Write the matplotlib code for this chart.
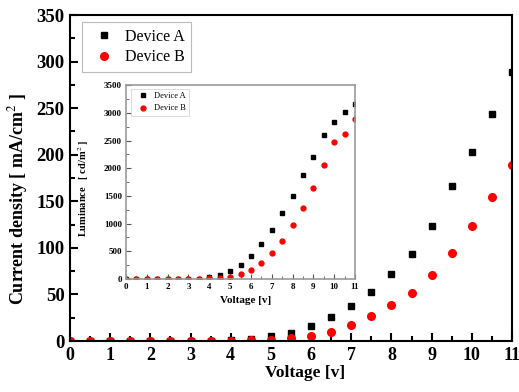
import numpy as np
import matplotlib
matplotlib.use("Agg")
from matplotlib import pyplot as plt
from matplotlib.ticker import MultipleLocator

plt.rcParams['font.family'] = ['Liberation Serif', 'DejaVu Serif']
plt.rcParams['mathtext.fontset'] = 'stix'

# current density vs voltage
voltage = [0, 0.5, 1, 1.5, 2, 2.5, 3, 3.5, 4, 4.5, 5, 5.5, 6, 6.5, 7, 7.5, 8, 8.5, 9, 9.5, 10, 10.5, 11]
cur_a = [0.3, 0.3, 0.3, 0.3, 0.3, 0.3, 0.4, 0.4, 0.8, 2, 5, 9, 16.5, 26, 37.6, 52.3, 71.6, 93.4, 124, 166, 203, 244, 289]
cur_b = [0.2, 0.2, 0.2, 0.2, 0.2, 0.2, 0.2, 0.2, 0.3, 0.7, 1.5, 2.9, 5.4, 10, 17.2, 26.5, 38.3, 52, 71, 94.5, 123, 155, 189]

# luminance vs voltage (inset)
lum_a = [0, 0, 0, 0, 0, 0, 2, 8, 30, 72, 145, 253, 416, 632, 885, 1190, 1505, 1879, 2204, 2602, 2831, 3012, 3157]
lum_b = [0, 0, 0, 0, 0, 0, 1, 4, 10, 24, 42, 90, 163, 295, 470, 692, 981, 1278, 1639, 2054, 2481, 2620, 2897]

fig = plt.figure(figsize=(5.19, 3.92), dpi=100)
ax = fig.add_axes([0.1349, 0.130, 0.8516, 0.8317])

ax.plot(voltage, cur_a, 's', color='black', markersize=5, label='Device A')
ax.plot(voltage, cur_b, 'o', color='#ff0000', markersize=5.5, label='Device B')
ax.set_xlim(0, 11)
ax.set_ylim(0, 350)
ax.xaxis.set_major_locator(MultipleLocator(1))
ax.xaxis.set_minor_locator(MultipleLocator(0.5))
ax.yaxis.set_major_locator(MultipleLocator(50))
ax.yaxis.set_minor_locator(MultipleLocator(25))
ax.tick_params(which='both', direction='in', top=False, right=False, width=1.5)
ax.tick_params(which='major', length=6, labelsize=13.5, pad=4)
ax.tick_params(axis='x', which='major', labelsize=13)
ax.tick_params(which='minor', length=3.5)
for lab in ax.get_xticklabels() + ax.get_yticklabels():
    lab.set_fontweight('bold')
for sp in ax.spines.values():
    sp.set_linewidth(1.5)
ax.set_xlabel('Voltage [v]', fontsize=12.5, fontweight='bold')
ax.set_ylabel('Current density [ mA/cm$^{2}$ ]', fontsize=13, fontweight='bold')
ax.xaxis.set_label_coords(0.532, -0.075)
ax.yaxis.set_label_coords(-0.0905, 0.437)
leg = ax.legend(loc='upper left', bbox_to_anchor=(0.027, 0.978), borderaxespad=0,
                fontsize=11.5, fancybox=False, edgecolor='#aaaaaa', handletextpad=0.3,
                borderpad=0.4, labelspacing=0.3, handlelength=2.0)
leg.get_frame().set_linewidth(0.8)

# inset
ins = fig.add_axes([0.2428, 0.2883, 0.4412, 0.4941])
ins.plot(voltage, lum_a, 's', color='black', markersize=3, label='Device A')
ins.plot(voltage, lum_b, 'o', color='#ff0000', markersize=3.5, label='Device B')
ins.set_xlim(0, 11)
ins.set_ylim(0, 3500)
ins.xaxis.set_major_locator(MultipleLocator(1))
ins.xaxis.set_minor_locator(MultipleLocator(0.5))
ins.yaxis.set_major_locator(MultipleLocator(500))
ins.yaxis.set_minor_locator(MultipleLocator(250))
ins.tick_params(which='both', direction='in', top=False, right=False, color='#555555')
ins.tick_params(which='major', length=3.5, labelsize=6.5, pad=3)
ins.tick_params(which='minor', length=2)
for lab in ins.get_xticklabels() + ins.get_yticklabels():
    lab.set_fontweight('bold')
for sp in ins.spines.values():
    sp.set_linewidth(1.2)
    sp.set_color('#999999')
ins.set_xlabel('Voltage [v]', fontsize=8, fontweight='bold')
ins.set_ylabel('Luminance   [ cd/m$^{2}$ ]', fontsize=7.5, fontweight='bold')
ins.xaxis.set_label_coords(0.522, -0.088)
ins.yaxis.set_label_coords(-0.154, 0.47)
leg2 = ins.legend(loc='upper left', bbox_to_anchor=(0.0205, 0.981), borderaxespad=0,
                  fontsize=6, fancybox=False, edgecolor='#cccccc', handletextpad=0.2,
                  borderpad=0.4, labelspacing=0.5, handlelength=2.2)
leg2.get_frame().set_linewidth(0.6)

fig.savefig('out.png', dpi=100)
